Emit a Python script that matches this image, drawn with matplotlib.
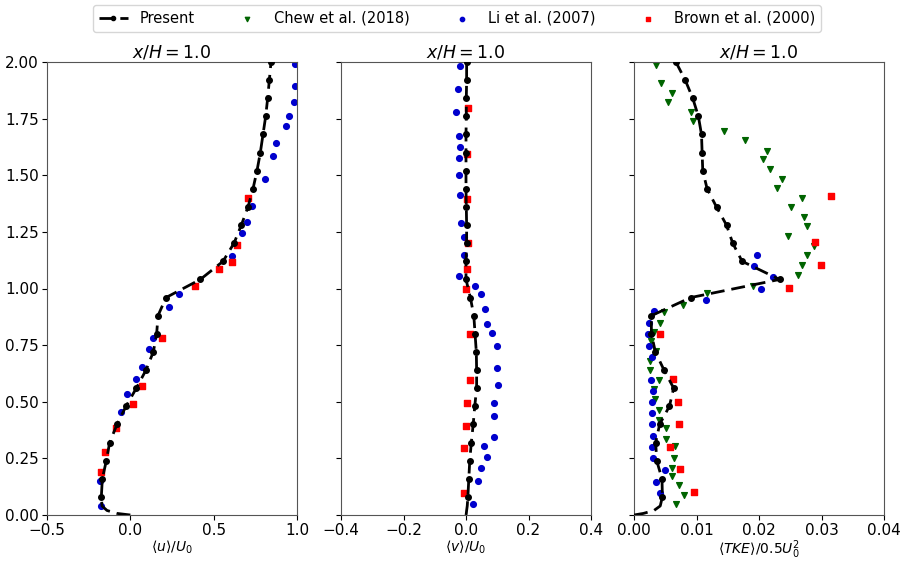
import numpy as np
import matplotlib
matplotlib.use("Agg")
import matplotlib.pyplot as plt

# ---------------- data ----------------
# Present (LES) profiles: y/H grid (first 4 points are near-wall line points, no markers)
y_present = [0.0, 0.007, 0.02, 0.04, 0.08, 0.16, 0.24, 0.32, 0.40, 0.48, 0.56, 0.64, 0.72,
             0.80, 0.88, 0.96, 1.04, 1.12, 1.20, 1.28, 1.36, 1.44, 1.52, 1.60, 1.68,
             1.76, 1.84, 1.92, 2.00]
u_present = [0.0, -0.08, -0.14, -0.17, -0.174, -0.168, -0.144, -0.124, -0.08, -0.026, 0.036,
             0.094, 0.138, 0.158, 0.166, 0.214, 0.42, 0.556, 0.622, 0.666, 0.706, 0.736,
             0.76, 0.78, 0.796, 0.812, 0.824, 0.834, 0.844]
v_present = [0.0, 0.001, 0.002, 0.004, 0.006, 0.009, 0.012, 0.017, 0.023, 0.028, 0.034,
             0.034, 0.033, 0.029, 0.025, 0.014, 0.0, 0.0, 0.002, 0.002, 0.001, 0.0,
             0.0, 0.0, 0.0, 0.001, 0.001, 0.002, 0.002]
k_present = [0.0, 0.0015, 0.0032, 0.0042, 0.00454, 0.00448, 0.00363, 0.00347, 0.0041,
             0.00566, 0.00635, 0.0048, 0.00342, 0.00278, 0.00278, 0.00907, 0.0233,
             0.0173, 0.0158, 0.0148, 0.0132, 0.0117, 0.011, 0.0109, 0.0108, 0.0103,
             0.0094, 0.0082, 0.0067]

# Li et al. (2007)
y_li_u = [0.041, 0.15, 0.453, 0.536, 0.601, 0.655, 0.731, 0.781, 0.919, 0.974, 1.143,
          1.245, 1.294, 1.365, 1.482, 1.586, 1.643, 1.716, 1.76, 1.823, 1.893, 1.99]
u_li = [-0.176, -0.18, -0.056, -0.018, 0.032, 0.072, 0.11, 0.134, 0.23, 0.294, 0.61,
        0.668, 0.70, 0.732, 0.806, 0.858, 0.876, 0.932, 0.954, 0.984, 0.986, 0.99]
y_li_v = [0.05, 0.152, 0.209, 0.254, 0.303, 0.343, 0.437, 0.494, 0.576, 0.649, 0.744,
          0.803, 0.845, 0.908, 0.975, 1.01, 1.055, 1.148, 1.229, 1.291, 1.415, 1.501,
          1.577, 1.625, 1.674, 1.779, 1.88, 1.981]
v_li = [0.023, 0.038, 0.049, 0.066, 0.059, 0.090, 0.089, 0.090, 0.102, 0.099, 0.099,
        0.082, 0.066, 0.060, 0.048, 0.030, -0.022, -0.005, -0.008, -0.017, -0.02,
        -0.024, -0.023, -0.019, -0.024, -0.033, -0.027, -0.019]
y_li_k = [0.098, 0.147, 0.197, 0.25, 0.30, 0.348, 0.40, 0.449, 0.497, 0.548, 0.598,
          0.697, 0.748, 0.80, 0.849, 0.899, 0.949, 1.0, 1.05, 1.099, 1.148]
k_li = [0.0041, 0.00358, 0.00496, 0.0031, 0.00288, 0.003, 0.00283, 0.00294, 0.00294,
        0.00304, 0.00272, 0.00294, 0.00235, 0.00219, 0.00235, 0.00315, 0.01147, 0.0203,
        0.0223, 0.0192, 0.01974]

# Brown et al. (2000)
y_br_u = [0.19, 0.276, 0.386, 0.488, 0.570, 0.782, 1.009, 1.085, 1.118, 1.194, 1.399]
u_br = [-0.176, -0.152, -0.086, 0.014, 0.072, 0.19, 0.388, 0.53, 0.61, 0.638, 0.704]
y_br_v = [0.098, 0.295, 0.395, 0.494, 0.596, 0.80, 1.0, 1.088, 1.203, 1.397, 1.593, 1.795]
v_br = [-0.006, -0.006, 0.0, 0.003, 0.012, 0.013, 0.0, 0.003, 0.006, 0.002, 0.003, 0.006]
y_br_k = [0.102, 0.202, 0.301, 0.402, 0.50, 0.601, 0.801, 1.003, 1.104, 1.205, 1.408]
k_br = [0.0096, 0.00736, 0.00576, 0.00715, 0.0071, 0.00624, 0.0041, 0.02475, 0.02998,
        0.02891, 0.03158]

# Chew et al. (2018)
y_chew_k = [0.048, 0.088, 0.133, 0.172, 0.209, 0.253, 0.304, 0.336, 0.386, 0.421, 0.463,
            0.513, 0.555, 0.598, 0.639, 0.68, 0.724, 0.768, 0.807, 0.846, 0.896, 0.925,
            0.979, 1.013, 1.058, 1.104, 1.149, 1.189, 1.232, 1.276, 1.316, 1.358, 1.40,
            1.443, 1.485, 1.528, 1.57, 1.607, 1.655, 1.696, 1.74, 1.779, 1.823, 1.865,
            1.906, 1.988]
k_chew = [0.00678, 0.00795, 0.0072, 0.00603, 0.00603, 0.0064, 0.00662, 0.00518, 0.00507,
          0.004, 0.004, 0.00331, 0.00315, 0.004, 0.00251, 0.00251, 0.00347, 0.00278,
          0.00315, 0.00422, 0.00475, 0.0079, 0.01174, 0.019, 0.02624, 0.02683, 0.02774,
          0.0288, 0.02464, 0.02774, 0.02726, 0.02512, 0.02688, 0.02283, 0.02363, 0.02171,
          0.0207, 0.02134, 0.01782, 0.01435, 0.00944, 0.00918, 0.0055, 0.00603, 0.00438,
          0.00358]

titles = ["$x/H = 1.0$"] * 3
xlabels = [r"$\langle u\rangle/U_0$", r"$\langle v\rangle/U_0$",
           r"$\langle TKE\rangle/0.5U_0^2$"]
xlims = [(-0.5, 1.0), (-0.4, 0.4), (0.0, 0.04)]
xticks = [[-0.5, 0.0, 0.5, 1.0], [-0.4, -0.2, 0.0, 0.2, 0.4],
          [0.00, 0.01, 0.02, 0.03, 0.04]]
xticklabels = [["−0.5", "0.0", "0.5", "1.0"], ["−0.4", "−0.2", "0.0", "0.2", "0.4"],
               ["0.00", "0.01", "0.02", "0.03", "0.04"]]
yticks = [0.0, 0.25, 0.5, 0.75, 1.0, 1.25, 1.5, 1.75, 2.0]

# ---------------- plot ----------------
fig = plt.figure(figsize=(9.0, 5.61), dpi=100)
lefts = [47 / 900, 341 / 900, 634 / 900]
w = 250 / 900
b = 46 / 561
h = 453 / 561

GREEN = "#006400"
BLUE = "#0000cd"
RED = "#ff0000"

present_x = [u_present, v_present, k_present]
li = [(u_li, y_li_u), (v_li, y_li_v), (k_li, y_li_k)]
br = [(u_br, y_br_u), (v_br, y_br_v), (k_br, y_br_k)]
mk = list(range(4, len(y_present)))

axes = []
for i in range(3):
    ax = fig.add_axes([lefts[i], b, w, h])
    axes.append(ax)
    ax.plot(present_x[i], y_present, color="black", ls=(0, (5, 2.5)), lw=2.0,
            marker="o", ms=4.0, markevery=mk, label="Present", zorder=3)
    if i == 2:
        ax.scatter(k_chew, y_chew_k, marker="v", color=GREEN, s=17,
                   label="Chew et al. (2018)", zorder=2)
    ax.scatter(li[i][0], li[i][1], marker="o", color=BLUE, s=17,
               label="Li et al. (2007)", zorder=2)
    ax.scatter(br[i][0], br[i][1], marker="s", color=RED, s=17,
               label="Brown et al. (2000)", zorder=2)
    ax.set_xlim(*xlims[i])
    ax.set_ylim(0, 2.0)
    ax.set_xticks(xticks[i])
    ax.set_xticklabels(xticklabels[i])
    ax.set_yticks(yticks)
    if i == 0:
        ax.set_yticklabels(["0.00", "0.25", "0.50", "0.75", "1.00", "1.25", "1.50",
                            "1.75", "2.00"])
    else:
        ax.set_yticklabels([])
    ax.set_title(titles[i], fontsize=12.5, pad=3)
    ax.set_xlabel(xlabels[i], fontsize=10, labelpad=0)
    ax.tick_params(labelsize=11, pad=2.5)
    for s in ax.spines.values():
        s.set_color("#555555")

h3, l3 = axes[2].get_legend_handles_labels()
fig.legend(h3, l3, loc="upper center", bbox_to_anchor=(0.508, 1.004), ncol=4,
           fontsize=10.5, frameon=True, columnspacing=2.6, handlelength=2.0,
           markerscale=0.75)

fig.savefig("out.png", dpi=100)
